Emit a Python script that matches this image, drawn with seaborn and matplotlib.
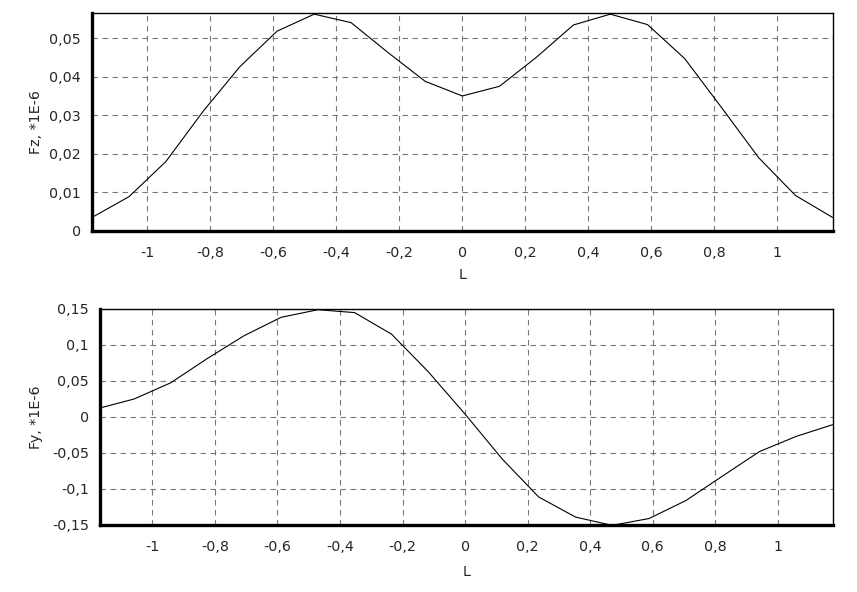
import pandas as pd
import seaborn as sns
import matplotlib.pyplot as plt
from matplotlib.ticker import MultipleLocator, AutoMinorLocator

# positions along L (21 nodes)
L = [-1.176, -1.058, -0.941, -0.823, -0.706, -0.588, -0.470, -0.353, -0.235, -0.118, 0.0,
     0.118, 0.235, 0.353, 0.470, 0.588, 0.706, 0.823, 0.941, 1.058, 1.176]

# Fz, *1E-6
fz = [0.0035, 0.0089, 0.0180, 0.0310, 0.0426, 0.0518, 0.0562, 0.0540, 0.0462, 0.0388, 0.0350,
      0.0375, 0.0450, 0.0534, 0.0562, 0.0535, 0.0447, 0.0320, 0.0190, 0.0092, 0.0035]

# Fy, *1E-6
fy = [0.0115, 0.0250, 0.0475, 0.0815, 0.1130, 0.1385, 0.1490, 0.1450, 0.1150, 0.0630, 0.0040,
      -0.0580, -0.1110, -0.1390, -0.1505, -0.1410, -0.1160, -0.0820, -0.0480, -0.0270, -0.0105]

x_ticks = [-1, -0.8, -0.6, -0.4, -0.2, 0, 0.2, 0.4, 0.6, 0.8, 1]
x_labels = ['-1', '-0,8', '-0,6', '-0,4', '-0,2', '0', '0,2', '0,4', '0,6', '0,8', '1']
fz_ticks = [0, 0.01, 0.02, 0.03, 0.04, 0.05]
fz_labels = ['0', '0,01', '0,02', '0,03', '0,04', '0,05']
fy_ticks = [-0.15, -0.1, -0.05, 0, 0.05, 0.1, 0.15]
fy_labels = ['-0,15', '-0,1', '-0,05', '0', '0,05', '0,1', '0,15']

df = pd.DataFrame({'L': L, 'Fz': fz, 'Fy': fy})

sns.set_style('white')
plt.rcParams['font.family'] = ['DejaVu Sans']
FS = 10.3

fig = plt.figure(figsize=(8.57, 5.92), dpi=100)
ax1 = fig.add_axes([92 / 857, 1 - 231 / 592, 741 / 857, 218 / 592])
ax2 = fig.add_axes([100 / 857, 1 - 525 / 592, 733 / 857, 216 / 592])


def style_axes(ax, col, yticks, ylabels, ylim, xlim, ylab_x, xlab_y):
    sns.lineplot(data=df, x='L', y=col, ax=ax, color='black', linewidth=0.8)
    ax.set_xlim(*xlim)
    ax.set_ylim(*ylim)
    ax.set_xticks(x_ticks)
    ax.set_xticklabels(x_labels)
    ax.set_yticks(yticks)
    ax.set_yticklabels(ylabels)
    ax.xaxis.set_minor_locator(MultipleLocator(0.05))
    ax.yaxis.set_minor_locator(AutoMinorLocator(5))
    ax.grid(True, which='major', color='#777777', linestyle=(0, (5, 4)), linewidth=0.8)
    ax.tick_params(axis='x', which='major', direction='out', length=5, width=0.8,
                   color='black', pad=5.5, labelsize=FS)
    ax.tick_params(axis='x', which='minor', direction='out', length=2.5, width=0.7, color='black')
    ax.tick_params(axis='y', which='major', direction='inout', length=6, width=0.8,
                   color='black', pad=5, labelsize=FS)
    ax.tick_params(axis='y', which='minor', direction='out', length=1.5, width=0.6, color='black')
    for side in ['top', 'right']:
        ax.spines[side].set_linewidth(1.0)
        ax.spines[side].set_color('black')
    for side in ['left', 'bottom']:
        ax.spines[side].set_linewidth(2.4)
        ax.spines[side].set_color('black')
    ax.set_xlabel('L', fontsize=FS)
    ax.xaxis.set_label_coords(0.5, xlab_y)
    ax.yaxis.set_label_coords(ylab_x, 0.5)


style_axes(ax1, 'Fz', fz_ticks, fz_labels, (0, 0.0565), (-1.1756, 1.177), -0.0665, -0.172)
ax1.set_ylabel('Fz, *1E-6', fontsize=FS)

style_axes(ax2, 'Fy', fy_ticks, fy_labels, (-0.15, 0.15), (-1.167, 1.176), -0.078, -0.184)
ax2.set_ylabel('Fy, *1E-6', fontsize=FS)

fig.savefig('out.png', dpi=100)
